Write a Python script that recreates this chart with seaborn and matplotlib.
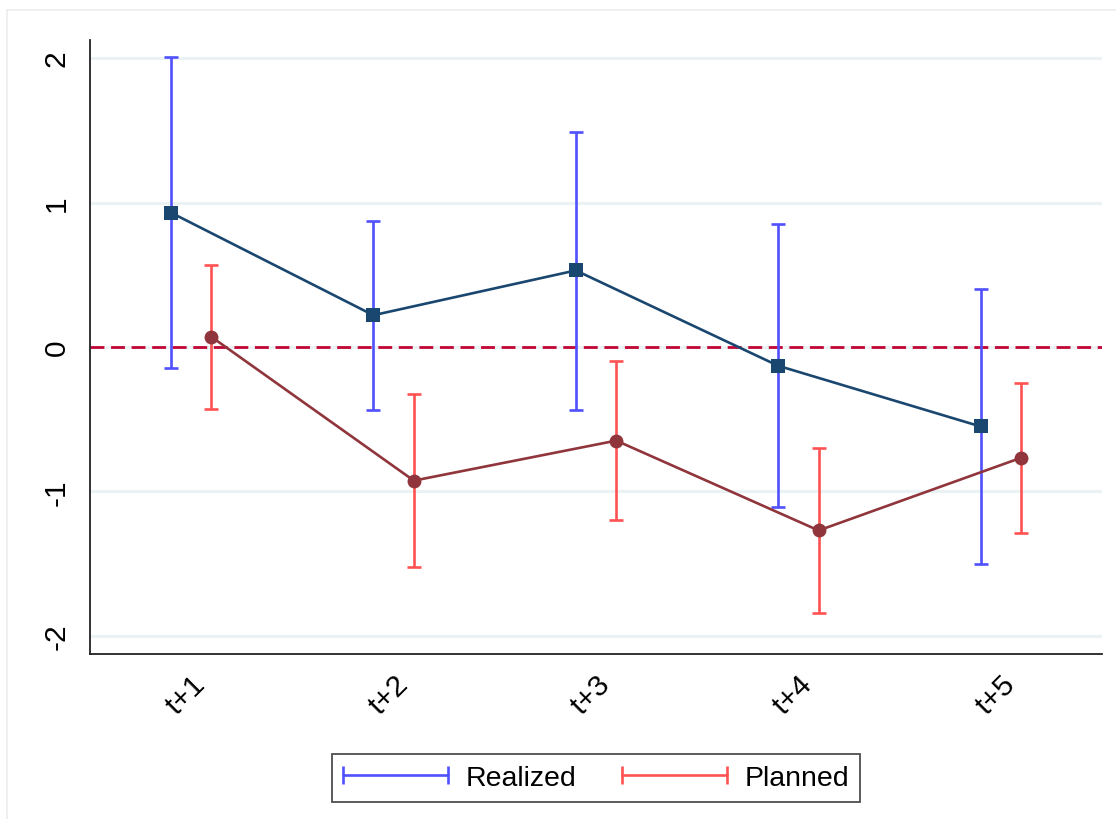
import matplotlib
matplotlib.use("Agg")
import matplotlib.pyplot as plt
from matplotlib.lines import Line2D
from matplotlib.legend_handler import HandlerLine2D
from matplotlib.patches import Rectangle
import numpy as np
import pandas as pd
import seaborn as sns

# Horizons and estimates with confidence bounds
horizons = ["t+1", "t+2", "t+3", "t+4", "t+5"]

realized_est = [0.93, 0.22, 0.53, -0.13, -0.55]
realized_lo = [-0.145, -0.435, -0.435, -1.107, -1.50]
realized_hi = [2.01, 0.87, 1.49, 0.85, 0.40]

planned_est = [0.07, -0.925, -0.648, -1.27, -0.767]
planned_lo = [-0.428, -1.523, -1.20, -1.84, -1.285]
planned_hi = [0.567, -0.327, -0.094, -0.698, -0.247]

sns.set_theme(style="white")
plt.rcParams["font.family"] = ["Liberation Sans", "DejaVu Sans"]
plt.rcParams["axes.unicode_minus"] = False


class CapRangeHandler(HandlerLine2D):
    """Legend key: a horizontal line with a cap at each end."""

    def get_xdata(self, legend, xdescent, ydescent, width, height, fontsize):
        xdata = np.array([-xdescent, -xdescent + width], float)
        return xdata, xdata


fig = plt.figure(figsize=(11.16, 8.2), dpi=100)
ax = fig.add_axes([90 / 1116, 1 - 655 / 820, (1102 - 90) / 1116, (655 - 40.7) / 820])

# faint outer graph-region border
fig.patches.append(Rectangle((7 / 1116, -0.1), 1.2, (820 - 11) / 820 + 0.1,
                             transform=fig.transFigure, fill=False,
                             edgecolor="#ececec", lw=1.2, zorder=0))

pos = np.arange(1, len(horizons) + 1)
shift = 0.1

df = pd.DataFrame({
    "x": np.concatenate([pos - shift, pos + shift]),
    "est": realized_est + planned_est,
    "lo": realized_lo + planned_lo,
    "hi": realized_hi + planned_hi,
    "series": ["Realized"] * 5 + ["Planned"] * 5,
})

line_colors = {"Realized": "#1a476f", "Planned": "#90353b"}
bar_colors = {"Realized": "#5050ff", "Planned": "#ff5252"}
markers = {"Realized": "s", "Planned": "o"}

# horizontal gridlines
for yv in [-2, -1, 0, 1, 2]:
    ax.axhline(yv, color="#eaf2f3", lw=2.2, zorder=0)

# zero reference line
ax.axhline(0, color="#c10534", lw=2.0, ls=(0, (5, 2.4)), zorder=1)

for name in ["Realized", "Planned"]:
    sub = df[df["series"] == name]
    ax.errorbar(sub["x"], sub["est"],
                yerr=[sub["est"] - sub["lo"], sub["hi"] - sub["est"]],
                fmt="none", ecolor=bar_colors[name], elinewidth=1.9,
                capsize=5.2, capthick=1.9, zorder=2)
    sns.lineplot(data=sub, x="x", y="est", ax=ax, color=line_colors[name],
                 marker=markers[name], markersize=9.5 if name == "Realized" else 10,
                 markeredgewidth=0, lw=1.9, zorder=3, legend=False)

ax.set_xlim(0.5, 5.5)
ax.set_ylim(-2.125, 2.127)
ax.set_xticks(pos)
ax.set_xticklabels(horizons, rotation=45, ha="right", va="top",
                   rotation_mode="anchor", fontsize=21.5)
ax.set_yticks([-2, -1, 0, 1, 2])
ax.set_yticklabels(["-2", "-1", "0", "1", "2"], rotation=90, va="center",
                   fontsize=21.5)
ax.set_xlabel("")
ax.set_ylabel("")
ax.tick_params(axis="both", which="major", length=8, width=1.3,
               color="#222222", labelcolor="black", direction="out")
ax.tick_params(axis="x", pad=3)
ax.tick_params(axis="y", pad=6)
for s in ["top", "right"]:
    ax.spines[s].set_visible(False)
for s in ["left", "bottom"]:
    ax.spines[s].set_color("#222222")
    ax.spines[s].set_linewidth(1.3)
ax.set_facecolor("white")

handles = [
    Line2D([], [], color=bar_colors["Realized"], lw=1.9, marker="|",
           markersize=13, markeredgewidth=1.9),
    Line2D([], [], color=bar_colors["Planned"], lw=1.9, marker="|",
           markersize=13, markeredgewidth=1.9),
]
leg_fs = 20.5
leg = fig.legend(handles, ["Realized", "Planned"], loc="center",
                 bbox_to_anchor=(596 / 1116, 1 - 779 / 820), ncol=2,
                 numpoints=2, fontsize=leg_fs, handlelength=3.7,
                 handletextpad=0.62, columnspacing=1.58, frameon=True,
                 fancybox=False, borderpad=0.38, borderaxespad=0,
                 handler_map={Line2D: CapRangeHandler(numpoints=2)})
leg.get_frame().set_edgecolor("#222222")
leg.get_frame().set_linewidth(1.3)
for t in leg.get_texts():
    t.set_color("black")

fig.savefig("out.png", dpi=100, facecolor="white")
